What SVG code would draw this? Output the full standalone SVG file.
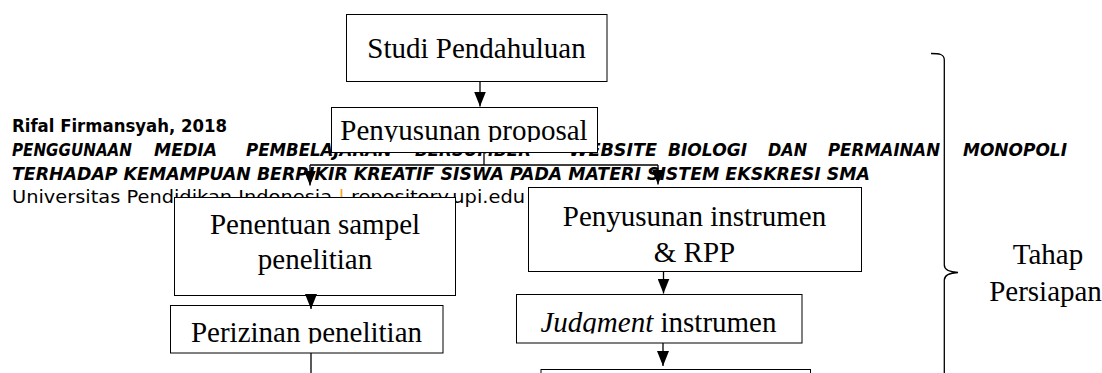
<svg xmlns="http://www.w3.org/2000/svg" width="1102" height="373" viewBox="0 0 1102 373">
<style>
.box{fill:#fff;stroke:#000;stroke-width:1}
.lbl{font-family:"Liberation Serif","Times New Roman",serif;font-size:29px;fill:#000;text-anchor:middle}
.ft{font-family:"DejaVu Sans",Tahoma,sans-serif;font-size:18px;fill:#000}
.fb{font-weight:bold;font-style:italic}
.ln{stroke:#000;stroke-width:1.3;fill:none}
.arr{stroke:#000;stroke-width:1.3;fill:none;marker-end:url(#ah)}
</style>
<defs>
<marker id="ah" viewBox="0 0 15 12" refX="15" refY="6" markerWidth="15" markerHeight="12" markerUnits="userSpaceOnUse" orient="auto"><path d="M0,0 L15,6 L0,12 z" fill="#000"/></marker>
<clipPath id="cpProp"><rect x="332" y="108" width="265" height="34"/></clipPath>
<clipPath id="cpIzin"><rect x="171" y="306" width="271" height="37.5"/></clipPath>
<clipPath id="cpJudg"><rect x="517" y="295" width="284" height="38.5"/></clipPath>
</defs>
<rect width="1102" height="373" fill="#fff"/>
<g id="footer">
<text class="ft" font-weight="bold" x="12" y="132" textLength="215" lengthAdjust="spacingAndGlyphs">Rifal Firmansyah, 2018</text>
<g class="ft fb">
<text x="12" y="156" textLength="120" lengthAdjust="spacingAndGlyphs">PENGGUNAAN</text>
<text x="154" y="156" textLength="63" lengthAdjust="spacingAndGlyphs">MEDIA</text>
<text x="246" y="156" textLength="146" lengthAdjust="spacingAndGlyphs">PEMBELAJARAN</text>
<text x="415" y="156" textLength="116" lengthAdjust="spacingAndGlyphs">BERSUMBER</text>
<text x="569" y="156" textLength="88" lengthAdjust="spacingAndGlyphs">WEBSITE</text>
<text x="668" y="156" textLength="79" lengthAdjust="spacingAndGlyphs">BIOLOGI</text>
<text x="768" y="156" textLength="39" lengthAdjust="spacingAndGlyphs">DAN</text>
<text x="828" y="156" textLength="112" lengthAdjust="spacingAndGlyphs">PERMAINAN</text>
<text x="963" y="156" textLength="104" lengthAdjust="spacingAndGlyphs">MONOPOLI</text>
<text x="12" y="180" textLength="858" lengthAdjust="spacingAndGlyphs">TERHADAP KEMAMPUAN BERPIKIR KREATIF SISWA PADA MATERI SISTEM EKSKRESI SMA</text>
</g>
<text class="ft" x="12" y="203" textLength="513" lengthAdjust="spacingAndGlyphs">Universitas Pendidikan Indonesia <tspan fill="#f2a623">|</tspan> repository.upi.edu</text>
</g>
<g id="n-studi">
<rect class="box" x="346.5" y="14.5" width="260.5" height="67"/>
<text class="lbl" x="476.5" y="57.5">Studi Pendahuluan</text>
</g>
<g id="n-proposal">
<rect class="box" x="331.5" y="107.5" width="266" height="45"/>
<text class="lbl" x="464" y="140" font-size="26.5" clip-path="url(#cpProp)">Penyusunan proposal</text>
</g>
<g id="n-sampel">
<rect class="box" x="174.5" y="197.5" width="281" height="98"/>
<text class="lbl" x="315" y="234">Penentuan sampel</text>
<text class="lbl" x="315" y="268.5">penelitian</text>
</g>
<g id="n-izin">
<rect class="box" x="170.5" y="305.5" width="272.5" height="47.5"/>
<text class="lbl" x="306.5" y="342" clip-path="url(#cpIzin)">Perizinan penelitian</text>
</g>
<g id="n-instrumen">
<rect class="box" x="528.5" y="187.5" width="333" height="84"/>
<text class="lbl" x="694.5" y="226">Penyusunan instrumen</text>
<text class="lbl" x="694.5" y="262">&amp; RPP</text>
</g>
<g id="n-judgment">
<rect class="box" x="516.5" y="294.5" width="285.5" height="48.5"/>
<text class="lbl" x="658.5" y="331.5" clip-path="url(#cpJudg)"><tspan font-style="italic">Judgment</tspan> instrumen</text>
</g>
<g id="n-next">
<rect class="box" x="541" y="369.5" width="269.5" height="20"/>
</g>
<g id="connectors">
<line class="arr" x1="480" y1="82" x2="480" y2="106.5"/>
<polyline class="ln" points="484,153 484,165"/>
<line class="ln" x1="310" y1="165" x2="658" y2="165"/>
<line class="arr" x1="310" y1="165" x2="310" y2="185.5"/>
<line class="arr" x1="658" y1="165" x2="658" y2="184.5"/>
<line class="arr" x1="311" y1="296" x2="311" y2="309"/>
<line class="ln" x1="311" y1="353" x2="311" y2="373"/>
<line class="arr" x1="663.5" y1="272" x2="663.5" y2="293.5"/>
<line class="arr" x1="663" y1="343" x2="663" y2="366"/>
</g>
<g id="brace">
<path class="ln" stroke-width="1.6" d="M931,53.5 C939,53.5 944.3,54 944.3,60 L944.3,265 C944.3,270 950,272 958,272.5 C950,273 944.3,275 944.3,280 L944.3,380"/>
</g>
<g id="n-tahap">
<text class="lbl" x="1048" y="264" font-size="28">Tahap</text>
<text class="lbl" x="1045.5" y="300.5" font-size="28">Persiapan</text>
</g>
</svg>
